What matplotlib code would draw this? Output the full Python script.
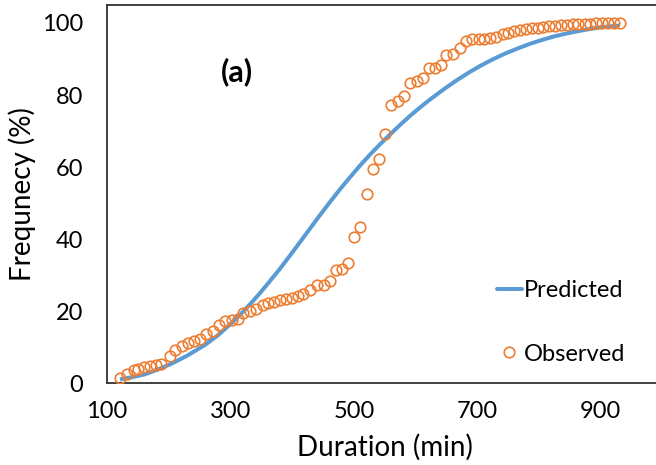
import matplotlib
matplotlib.use("Agg")
import matplotlib.pyplot as plt
from matplotlib.lines import Line2D

plt.rcParams['font.family'] = ['Lato', 'DejaVu Sans']

# Observed cumulative frequency of event durations
obs_duration = [121, 132, 143, 151, 160, 170, 179, 188, 202, 211,
                221, 231, 241, 251, 261, 271, 282, 292, 302, 312,
                321, 332, 342, 352, 361, 371, 380, 390, 399, 409,
                418, 429, 440, 451, 461, 471, 481, 491, 500, 510,
                521, 531, 541, 551, 560, 571, 581, 591, 602, 612,
                621, 632, 641, 650, 661, 672, 681, 691, 702, 711,
                721, 730, 741, 750, 760, 769, 779, 788, 798, 807,
                817, 826, 836, 845, 855, 864, 874, 883, 893, 902,
                912, 921, 931]
obs_freq = [1.3, 2.5, 3.6, 4.0, 4.5, 4.7, 5.1, 5.3, 7.5, 9.2,
            10.3, 11.2, 11.8, 12.3, 13.6, 14.5, 16.2, 17.3, 17.6, 17.9,
            19.5, 20.1, 20.6, 21.6, 22.1, 22.5, 23.1, 23.2, 23.6, 24.2,
            24.7, 25.8, 27.1, 27.3, 28.2, 31.3, 31.8, 33.4, 40.5, 43.4,
            52.4, 59.4, 62.3, 69.1, 77.2, 78.4, 79.8, 83.2, 83.9, 84.8,
            87.4, 87.4, 88.3, 91.1, 91.3, 93.0, 95.0, 95.6, 95.6, 95.6,
            95.7, 96.2, 96.9, 97.3, 97.8, 98.1, 98.3, 98.5, 98.7, 99.0,
            99.2, 99.3, 99.5, 99.5, 99.6, 99.7, 99.8, 99.8, 99.9, 99.9,
            100.0, 100.0, 100.0]

# Predicted cumulative frequency curve
pred_duration = [121, 140, 161, 182, 205, 230, 259, 280, 299, 316,
                 332, 348, 364, 381, 397, 413, 429, 445, 461, 478,
                 494, 510, 526, 543, 559, 575, 591, 607, 623, 645,
                 665, 686, 705, 725, 745, 765, 785, 805, 825, 845,
                 865, 885, 905, 930]
pred_freq = [1.0, 1.6, 2.4, 3.7, 5.4, 7.6, 10.6, 13.3, 16.2, 19.0,
             21.9, 25.0, 28.3, 31.9, 35.5, 39.2, 42.9, 46.6, 50.2, 53.9,
             57.2, 60.4, 63.4, 66.4, 69.1, 71.7, 74.2, 76.5, 78.7, 81.5,
             83.9, 86.2, 88.1, 89.9, 91.5, 92.9, 94.2, 95.3, 96.3, 97.1,
             97.8, 98.4, 98.9, 99.3]

x_ticks = [100, 300, 500, 700, 900]
y_ticks = [0, 20, 40, 60, 80, 100]

BLUE = '#5B9BD5'
ORANGE = '#ED7D31'

fig = plt.figure(figsize=(6.56, 4.65), dpi=100)
# plot area runs past the right edge of the canvas
ax = fig.add_axes([107 / 656, 82 / 465, 555.4 / 656, 378 / 465])

ax.plot(pred_duration, pred_freq, color=BLUE, lw=2.9, solid_capstyle='butt',
        solid_joinstyle='round', zorder=2)
ax.plot(obs_duration, obs_freq, linestyle='none', marker='o', markersize=7.6,
        markerfacecolor='none', markeredgecolor=ORANGE, markeredgewidth=1.2,
        zorder=3)

ax.set_xlim(100, 1000)
ax.set_ylim(0, 105)
ax.set_xticks(x_ticks)
ax.set_yticks(y_ticks)
ax.tick_params(axis='both', length=0, labelsize=17, colors='black')
ax.tick_params(axis='x', pad=13)
ax.tick_params(axis='y', pad=17)

for sp in ax.spines.values():
    sp.set_color('#333333')
    sp.set_linewidth(1.3)

ax.set_xlabel('Duration (min)', fontsize=20)
ax.set_ylabel('Frequnecy (%)', fontsize=20)
ax.xaxis.set_label_coords(0.5, -0.135)
ax.yaxis.set_label_coords(-0.128, 0.5)

ax.text(0.234, 0.823, '(a)', transform=ax.transAxes, fontsize=22,
        fontweight='bold', ha='center', va='center')

handles = [
    Line2D([], [], color=BLUE, lw=2.9, solid_capstyle='round'),
    Line2D([], [], linestyle='none', marker='o', markersize=7.6,
           markerfacecolor='none', markeredgecolor=ORANGE,
           markeredgewidth=1.2),
]
ax.legend(handles, ['Predicted', 'Observed'], loc='upper left',
          bbox_to_anchor=(0.702, 0.272), frameon=False, fontsize=17,
          handlelength=1.06, handletextpad=0.1, labelspacing=1.8,
          borderpad=0, borderaxespad=0, numpoints=1)

fig.savefig('out.png', dpi=100)
